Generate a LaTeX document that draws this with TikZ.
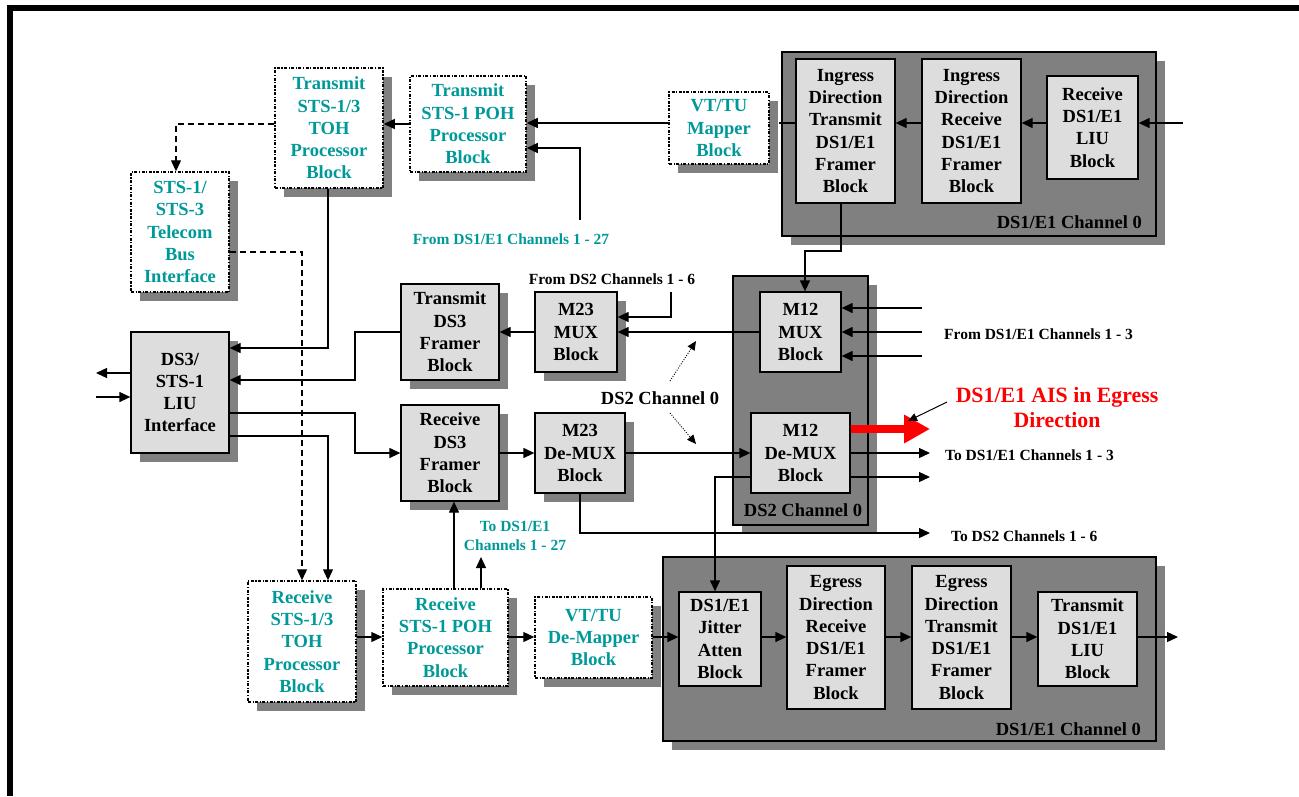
\documentclass[tikz,border=0pt]{standalone}
\usepackage{fontspec}
\setmainfont{Liberation Serif}
\usetikzlibrary{arrows.meta,shadows}
\definecolor{teal2}{RGB}{0,153,153}
\definecolor{boxgray}{RGB}{221,221,221}
\definecolor{shgray}{RGB}{128,128,128}
\definecolor{aisred}{RGB}{255,0,0}
\newcommand\bigf{\fontsize{18.5}{22.3}\selectfont\bfseries}
\newcommand\smallf{\fontsize{15.5}{19}\selectfont\bfseries}
\newcommand\aisf{\fontsize{21.8}{25}\selectfont\bfseries}
\tikzset{
 shd/.style={drop shadow={shadow xshift=9pt,shadow yshift=-9pt,fill=shgray,opacity=1}},
 gboxns/.style={draw=black,fill=boxgray,line width=1.3pt,align=center,inner sep=0pt,font=\bigf},
 gbox/.style={shd,gboxns},
 dbox/.style={shd,draw=black,fill=white,line width=1.5pt,dash pattern=on 3pt off 1.5pt on 1.2pt off 1.5pt,align=center,inner sep=0pt,font=\bigf,text=teal2},
 cont/.style={shd,draw=black,fill=shgray,line width=1.5pt,inner sep=0pt},
 conn/.style={draw=black,line width=1.3pt},
 tip/.style={-{Triangle[length=11pt,width=10pt]}},
 arr/.style={conn,tip},
 dsh/.style={draw=black,line width=1.3pt,dash pattern=on 6pt off 4pt},
 lbl/.style={font=\smallf,inner sep=0pt},
}
\begin{document}
\begin{tikzpicture}[x=1pt,y=-1pt]
\useasboundingbox (0,0) rectangle (1299,796);
% frame
\fill[black] (7,5) rectangle (1299,11);
\fill[black] (7,5) rectangle (13,796);

% containers
\node[cont,minimum width=374pt,minimum height=184pt] (c1) at (969,144) {};
\node[cont,minimum width=135pt,minimum height=249pt] (c2) at (800.5,400.5) {};
\node[cont,minimum width=493pt,minimum height=184pt] (c3) at (909.5,649) {};
\node[font=\bigf,anchor=east,inner sep=0pt] (c1l) at (1142,222) {DS1/E1 Channel 0};
\node[font=\bigf,inner sep=0pt] (c2l) at (803,510) {DS2 Channel 0};
\node[font=\bigf,anchor=east,inner sep=0pt] (c3l) at (1141,729) {DS1/E1 Channel 0};

% dotted (teal) blocks
\node[dbox,minimum width=108pt,minimum height=120pt] (tohtx) at (329,128) {Transmit\\STS-1/3\\TOH\\Processor\\Block};
\node[dbox,minimum width=116pt,minimum height=96pt] (pohtx) at (468,124) {Transmit\\STS-1 POH\\Processor\\Block};
\node[dbox,minimum width=100pt,minimum height=72pt] (map) at (719,128) {VT/TU\\Mapper\\Block};
\node[dbox,minimum width=98pt,minimum height=120pt] (tbus) at (180,232) {STS-1/\\STS-3\\Telecom\\Bus\\Interface};
\node[dbox,minimum width=108pt,minimum height=121pt] (tohrx) at (302,641.5) {Receive\\STS-1/3\\TOH\\Processor\\Block};
\node[dbox,minimum width=125pt,minimum height=97pt] (pohrx) at (445.5,637.5) {Receive\\STS-1 POH\\Processor\\Block};
\node[dbox,minimum width=117pt,minimum height=81pt] (demap) at (593.5,637.5) {VT/TU\\De-Mapper\\Block};

% gray blocks
\node[gbox,minimum width=98pt,minimum height=121pt] (liu3) at (180,392.5) {DS3/\\STS-1\\LIU\\Interface};
\node[gbox,minimum width=98pt,minimum height=96pt] (txds3) at (450,332) {Transmit\\DS3\\Framer\\Block};
\node[gbox,minimum width=98pt,minimum height=96pt] (rxds3) at (450,453) {Receive\\DS3\\Framer\\Block};
\node[gbox,minimum width=82pt,minimum height=80pt] (m23mux) at (576,332) {M23\\MUX\\Block};
\node[gbox,minimum width=90pt,minimum height=80pt] (m23dmx) at (580,453) {M23\\De-MUX\\Block};
\node[gboxns,minimum width=81pt,minimum height=80pt] (m12mux) at (800.5,332) {M12\\MUX\\Block};
\node[gboxns,minimum width=99pt,minimum height=80pt] (m12dmx) at (800.5,453) {M12\\De-MUX\\Block};
\node[gboxns,minimum width=99pt,minimum height=144pt] (ingtx) at (845.5,131) {Ingress\\Direction\\Transmit\\DS1/E1\\Framer\\Block};
\node[gboxns,minimum width=99pt,minimum height=144pt] (ingrx) at (971.5,131) {Ingress\\Direction\\Receive\\DS1/E1\\Framer\\Block};
\node[gboxns,minimum width=91pt,minimum height=103pt] (rxliu) at (1092.5,127.5) {Receive\\DS1/E1\\LIU\\Block};
\node[gboxns,minimum width=82pt,minimum height=94pt] (jit) at (720,639) {DS1/E1\\Jitter\\Atten\\Block};
\node[gboxns,minimum width=98pt,minimum height=143pt] (egrx) at (836,637.5) {Egress\\Direction\\Receive\\DS1/E1\\Framer\\Block};
\node[gboxns,minimum width=99pt,minimum height=143pt] (egtx) at (961.5,637.5) {Egress\\Direction\\Transmit\\DS1/E1\\Framer\\Block};
\node[gboxns,minimum width=99pt,minimum height=94pt] (txliu) at (1087.5,639) {Transmit\\DS1/E1\\LIU\\Block};

% text labels
\node[lbl,text=teal2] (lf27) at (511,239) {From DS1/E1 Channels 1 - 27};
\node[lbl] (lfds2) at (612,279) {From DS2 Channels 1 - 6};
\node[lbl,anchor=west] (lf13) at (944,334) {From DS1/E1 Channels 1 - 3};
\node[font=\aisf,text=aisred,align=center,inner sep=0pt] (lais) at (1057,408) {DS1/E1 AIS in Egress\\Direction};
\node[lbl,anchor=west] (lt13) at (945,455) {To DS1/E1 Channels 1 - 3};
\node[lbl,anchor=west] (lt26) at (951,536) {To DS2 Channels 1 - 6};
\node[font=\bigf,inner sep=0pt] (lds2) at (660,398) {DS2 Channel 0};
\node[lbl,text=teal2,align=center] (lt27) at (515,536) {To DS1/E1\\Channels 1 - 27};

% helper coordinates
\coordinate (r123) at (0,123);
\coordinate (r124) at (0,124);
\coordinate (r148) at (0,148);
\coordinate (r251) at (0,251);
\coordinate (r252) at (0,252);
\coordinate (r317) at (0,317);
\coordinate (r348) at (0,348);
\coordinate (r380) at (0,380);
\coordinate (r413) at (0,413);
\coordinate (r436) at (0,436);
\coordinate (r637) at (0,637);
\coordinate (x176) at (176,0);
\coordinate (x302) at (302,0);
\coordinate (x328) at (328,0);
\coordinate (x355) at (355,0);
\coordinate (x454) at (454,0);
\coordinate (x715) at (715,0);
\coordinate (x805) at (805,0);
\coordinate (x841) at (841,0);
\coordinate (inliu) at (1183,123);
\coordinate (f27) at (580,220);
\coordinate (fds2) at (671,292);
\coordinate (out3) at (96,373);
\coordinate (in3) at (96,397);
\coordinate (o1) at (930,453);
\coordinate (o2) at (930,477);
\coordinate (o3) at (930,533);
\coordinate (ais) at (930,429);
\coordinate (pa) at (947,402);
\coordinate (pb) at (908,421);
\coordinate (t27) at (481,557);
\coordinate (outl) at (1178,637);
\coordinate (d1a) at (670,381);
\coordinate (d1b) at (696,341);
\coordinate (d2a) at (670,413);
\coordinate (d2b) at (696,444);
\coordinate (mapsh) at (779,123);

% top ingress chain
\draw[arr] (inliu) -- (rxliu.east |- inliu);
\draw[arr] (rxliu.west |- r123) -- (ingrx.east |- r123);
\draw[arr] (ingrx.west |- r123) -- (ingtx.east |- r123);
\draw[conn] (ingtx.west |- r123) -- (mapsh);
\draw[arr] (map.west |- r123) -- (pohtx.east |- r123);
\draw[arr] (f27) |- (pohtx.east |- r148);
\draw[arr] (pohtx.west |- r124) -- (tohtx.east |- r124);
\draw[dsh,tip] (tohtx.west |- r124) -| (tbus.north -| x176);
\draw[dsh,tip] (tbus.east |- r252) -| (tohrx.north -| x302);
\draw[arr] (tohtx.south -| x328) |- (liu3.east |- r348);

% DS3 LIU connections
\draw[arr] (txds3.west) -- (txds3.west -| x355) -- (x355 |- r380) -- (liu3.east |- r380);
\draw[arr] (liu3.east |- r413) -- (x355 |- r413) |- (rxds3.west);
\draw[arr] (liu3.east |- r436) -| (tohrx.north -| x328);
\draw[arr] (liu3.west |- out3) -- (out3);
\draw[arr] (in3) -- (liu3.west |- in3);

% MUX side
\draw[arr] (m23mux.west) -- (txds3.east);
\draw[arr] (m12mux.west) -- (m23mux.east);
\draw[arr] (fds2) |- (m23mux.east |- r317);
\draw[arr] (ingtx.south -| x841) |- (x805 |- r251) -- (m12mux.north -| x805);
\foreach \yy [count=\i] in {308,332,356} {
  \coordinate (inm\i) at (922,\yy);
  \draw[arr] (inm\i) -- (m12mux.east |- inm\i);
}

% DE-MUX side
\draw[arr] (rxds3.east) -- (m23dmx.west);
\draw[arr] (m23dmx.east) -- (m12dmx.west);
\draw[arr] (m12dmx.east) -- (o1);
\draw[arr] (m12dmx.east |- o2) -- (o2);
\draw[arr] (m23dmx.south) |- (o3);
\draw[arr] (m12dmx.west |- o2) -| (jit.north -| x715);
\draw[line width=8pt,aisred,-{Triangle[length=26pt,width=27pt]}] (m12dmx.east |- ais) -- (ais);
\draw[line width=1pt,-{Triangle[length=9pt,width=8pt]}] (pa) -- (pb);
\draw[line width=0.9pt,dash pattern=on 1pt off 1.5pt,-{Triangle[length=9pt,width=8pt]}] (d1a) -- (d1b);
\draw[line width=0.9pt,dash pattern=on 1pt off 1.5pt,-{Triangle[length=9pt,width=8pt]}] (d2a) -- (d2b);

% bottom egress chain
\draw[arr] (pohrx.north -| x454) -- (rxds3.south -| x454);
\draw[arr] (pohrx.north -| t27) -- (t27);
\draw[arr] (tohrx.east |- r637) -- (pohrx.west |- r637);
\draw[arr] (pohrx.east |- r637) -- (demap.west |- r637);
\draw[arr] (demap.east |- r637) -- (jit.west |- r637);
\draw[arr] (jit.east |- r637) -- (egrx.west |- r637);
\draw[arr] (egrx.east |- r637) -- (egtx.west |- r637);
\draw[arr] (egtx.east |- r637) -- (txliu.west |- r637);
\draw[arr] (txliu.east |- r637) -- (outl);
\end{tikzpicture}
\end{document}
